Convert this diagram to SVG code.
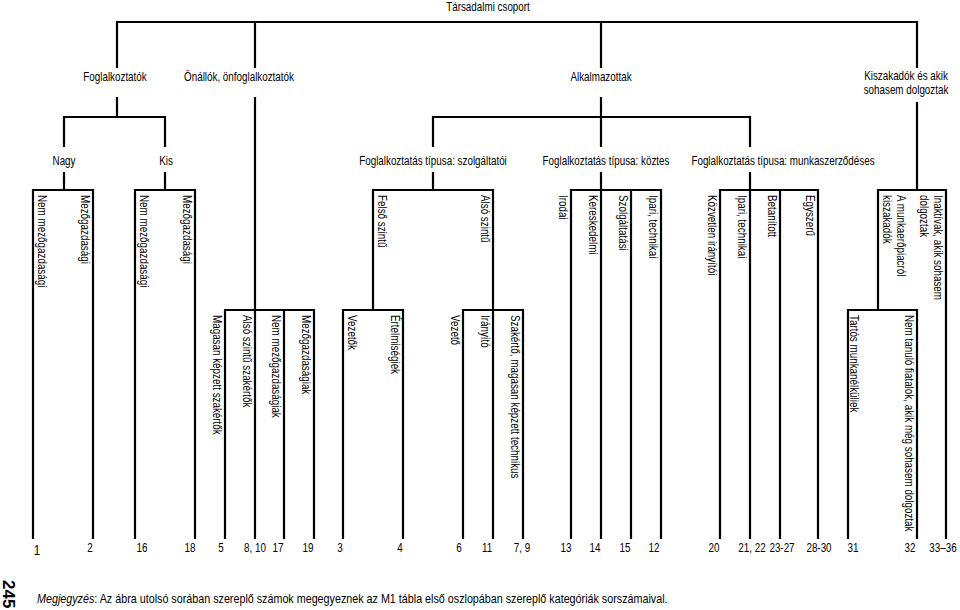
<svg xmlns="http://www.w3.org/2000/svg" width="960" height="610" viewBox="0 0 960 610">
<style>
.t{font-family:"Liberation Sans",Arial,sans-serif;font-size:12px;fill:#000}
.m{text-anchor:middle}
.big{font-size:14px}
.pg{font-family:"Liberation Sans",Arial,sans-serif;font-size:17px;font-weight:bold;fill:#000}
.c{fill:none;stroke:#000;stroke-width:2.2}
</style>
<rect width="960" height="610" fill="#fff"/>
<g id="connectors" class="c">
<path d="M117,68V22H917V68M255,22V68M601,22V68"/>
<path d="M117,97V117M64,147V117H165V147"/>
<path d="M601,97V147M433,147V117H750V147"/>
<path d="M255,97V539M917,102V190"/>
<path d="M64,172V190M165,172V190M433,172V190M601,172V539M750,172V539"/>
<path d="M33,539V190H93V539M135,539V190H195V539"/>
<path d="M373,310V190H493V539M343,539V310H403V539M463,539V310H523V539"/>
<path d="M571,539V190H661V539M631,190V539"/>
<path d="M720,539V190H818V539M780,190V539"/>
<path d="M878,310V190H946V539M848,539V310H917V539"/>
<path d="M225,539V310H314V539M284,310V539"/>
</g>
<g id="n-root"><text class="t m" transform="translate(488,11) scale(0.82,1)">Társadalmi csoport</text></g>
<g id="n-foglalkoztatok"><text class="t m" transform="translate(115,81) scale(0.82,1)">Foglalkoztatók</text></g>
<g id="n-onallok"><text class="t m" transform="translate(239,81) scale(0.82,1)">Önállók, önfoglalkoztatók</text></g>
<g id="n-alkalmazottak"><text class="t m" transform="translate(601,81) scale(0.82,1)">Alkalmazottak</text></g>
<g id="n-kiszakadok"><text class="t m" transform="translate(906,80) scale(0.82,1)">Kiszakadók és akik</text><text class="t m" transform="translate(906,94) scale(0.82,1)">sohasem dolgoztak</text></g>
<g id="n-nagy"><text class="t m" transform="translate(64,165) scale(0.82,1)">Nagy</text></g>
<g id="n-kis"><text class="t m" transform="translate(166,165) scale(0.82,1)">Kis</text></g>
<g id="n-szolg"><text class="t m" transform="translate(433,165) scale(0.82,1)">Foglalkoztatás típusa: szolgáltatói</text></g>
<g id="n-koztes"><text class="t m" transform="translate(606,165) scale(0.82,1)">Foglalkoztatás típusa: köztes</text></g>
<g id="n-munka"><text class="t m" transform="translate(783,165) scale(0.82,1)">Foglalkoztatás típusa: munkaszerződéses</text></g>

<g id="n-nagy-nem"><text class="t" transform="translate(38,195) rotate(90) scale(0.82,1)">Nem mezőgazdasági</text></g>
<g id="n-nagy-mezo"><text class="t" transform="translate(81,195) rotate(90) scale(0.82,1)">Mezőgazdasági</text></g>
<g id="n-kis-nem"><text class="t" transform="translate(140,195) rotate(90) scale(0.82,1)">Nem mezőgazdasági</text></g>
<g id="n-kis-mezo"><text class="t" transform="translate(183,195) rotate(90) scale(0.82,1)">Mezőgazdasági</text></g>
<g id="n-felso"><text class="t" transform="translate(378,195) rotate(90) scale(0.82,1)">Felső szintű</text></g>
<g id="n-also"><text class="t" transform="translate(481,195) rotate(90) scale(0.82,1)">Alsó szintű</text></g>
<g id="n-irodai"><text class="t" transform="translate(559,195) rotate(90) scale(0.82,1)">Irodai</text></g>
<g id="n-keresk"><text class="t" transform="translate(589,195) rotate(90) scale(0.82,1)">Kereskedelmi</text></g>
<g id="n-szolgaltatasi"><text class="t" transform="translate(619,195) rotate(90) scale(0.82,1)">Szolgáltatási</text></g>
<g id="n-ipari1"><text class="t" transform="translate(649,195) rotate(90) scale(0.82,1)">Ipari, technikai</text></g>
<g id="n-kozvetlen"><text class="t" transform="translate(708,195) rotate(90) scale(0.82,1)">Közvetlen irányítói</text></g>
<g id="n-ipari2"><text class="t" transform="translate(738,195) rotate(90) scale(0.82,1)">Ipari, technikai</text></g>
<g id="n-betanitott"><text class="t" transform="translate(768,195) rotate(90) scale(0.82,1)">Betanított</text></g>
<g id="n-egyszeru"><text class="t" transform="translate(806,195) rotate(90) scale(0.82,1)">Egyszerű</text></g>
<g id="n-munkaeropiac"><text class="t" transform="translate(897,195) rotate(90) scale(0.82,1)">A munkaerőpiacról<tspan x="0" dy="14">kiszakadók</tspan></text></g>
<g id="n-inaktivak"><text class="t" transform="translate(934,195) rotate(90) scale(0.82,1)">Inaktívak, akik sohasem<tspan x="0" dy="14">dolgoztak</tspan></text></g>

<g id="n-magasan"><text class="t" transform="translate(213,315) rotate(90) scale(0.82,1)">Magasan képzett szakértők</text></g>
<g id="n-also-szak"><text class="t" transform="translate(243,315) rotate(90) scale(0.82,1)">Alsó szintű szakértők</text></g>
<g id="n-nem-mezo"><text class="t" transform="translate(272,315) rotate(90) scale(0.82,1)">Nem mezőgazdaságiak</text></g>
<g id="n-mezo"><text class="t" transform="translate(302,315) rotate(90) scale(0.82,1)">Mezőgazdaságiak</text></g>
<g id="n-vezetok"><text class="t" transform="translate(348,315) rotate(90) scale(0.82,1)">Vezetők</text></g>
<g id="n-ertelmisegiek"><text class="t" transform="translate(391,315) rotate(90) scale(0.82,1)">Értelmiségiek</text></g>
<g id="n-vezeto"><text class="t" transform="translate(451,315) rotate(90) scale(0.82,1)">Vezető</text></g>
<g id="n-iranyito"><text class="t" transform="translate(481,315) rotate(90) scale(0.82,1)">Irányító</text></g>
<g id="n-szakerto"><text class="t" transform="translate(511,315) rotate(90) scale(0.82,1)">Szakértő, magasan képzett technikus</text></g>
<g id="n-tartos"><text class="t" transform="translate(850,315) rotate(90) scale(0.82,1)">Tartós munkanélküliek</text></g>
<g id="n-nemtanulo"><text class="t" transform="translate(905,315) rotate(90) scale(0.82,1)">Nem tanuló fiatalok, akik még sohasem dolgoztak</text></g>

<g id="numbers">
<text class="t m big" transform="translate(37,555) scale(0.82,1)">1</text>
<text class="t m" transform="translate(90,552) scale(0.82,1)">2</text>
<text class="t m" transform="translate(142,552) scale(0.82,1)">16</text>
<text class="t m" transform="translate(190,552) scale(0.82,1)">18</text>
<text class="t m" transform="translate(221,552) scale(0.82,1)">5</text>
<text class="t m" transform="translate(255,552) scale(0.82,1)">8, 10</text>
<text class="t m" transform="translate(278,552) scale(0.82,1)">17</text>
<text class="t m" transform="translate(308,552) scale(0.82,1)">19</text>
<text class="t m" transform="translate(340,552) scale(0.82,1)">3</text>
<text class="t m" transform="translate(400,552) scale(0.82,1)">4</text>
<text class="t m" transform="translate(459,552) scale(0.82,1)">6</text>
<text class="t m" transform="translate(487,552) scale(0.82,1)">11</text>
<text class="t m" transform="translate(522,552) scale(0.82,1)">7, 9</text>
<text class="t m" transform="translate(566,552) scale(0.82,1)">13</text>
<text class="t m" transform="translate(595,552) scale(0.82,1)">14</text>
<text class="t m" transform="translate(625,552) scale(0.82,1)">15</text>
<text class="t m" transform="translate(654,552) scale(0.82,1)">12</text>
<text class="t m" transform="translate(714,552) scale(0.82,1)">20</text>
<text class="t m" transform="translate(752,552) scale(0.82,1)">21, 22</text>
<text class="t m" transform="translate(782,552) scale(0.82,1)">23-27</text>
<text class="t m" transform="translate(819,552) scale(0.82,1)">28-30</text>
<text class="t m" transform="translate(853,552) scale(0.82,1)">31</text>
<text class="t m" transform="translate(910,552) scale(0.82,1)">32</text>
<text class="t m" transform="translate(943,552) scale(0.82,1)">33–36</text>
</g>
<g id="page"><text class="pg" transform="translate(3,580) rotate(90)">245</text></g>
<g id="note">
<text class="t" font-size="13" transform="translate(37,603) scale(0.897,1)"><tspan font-style="italic">Megjegyzés</tspan>: Az ábra utolsó sorában szereplő számok megegyeznek az M1 tábla első oszlopában szereplő kategóriák sorszámaival.</text>
</g>
</svg>
